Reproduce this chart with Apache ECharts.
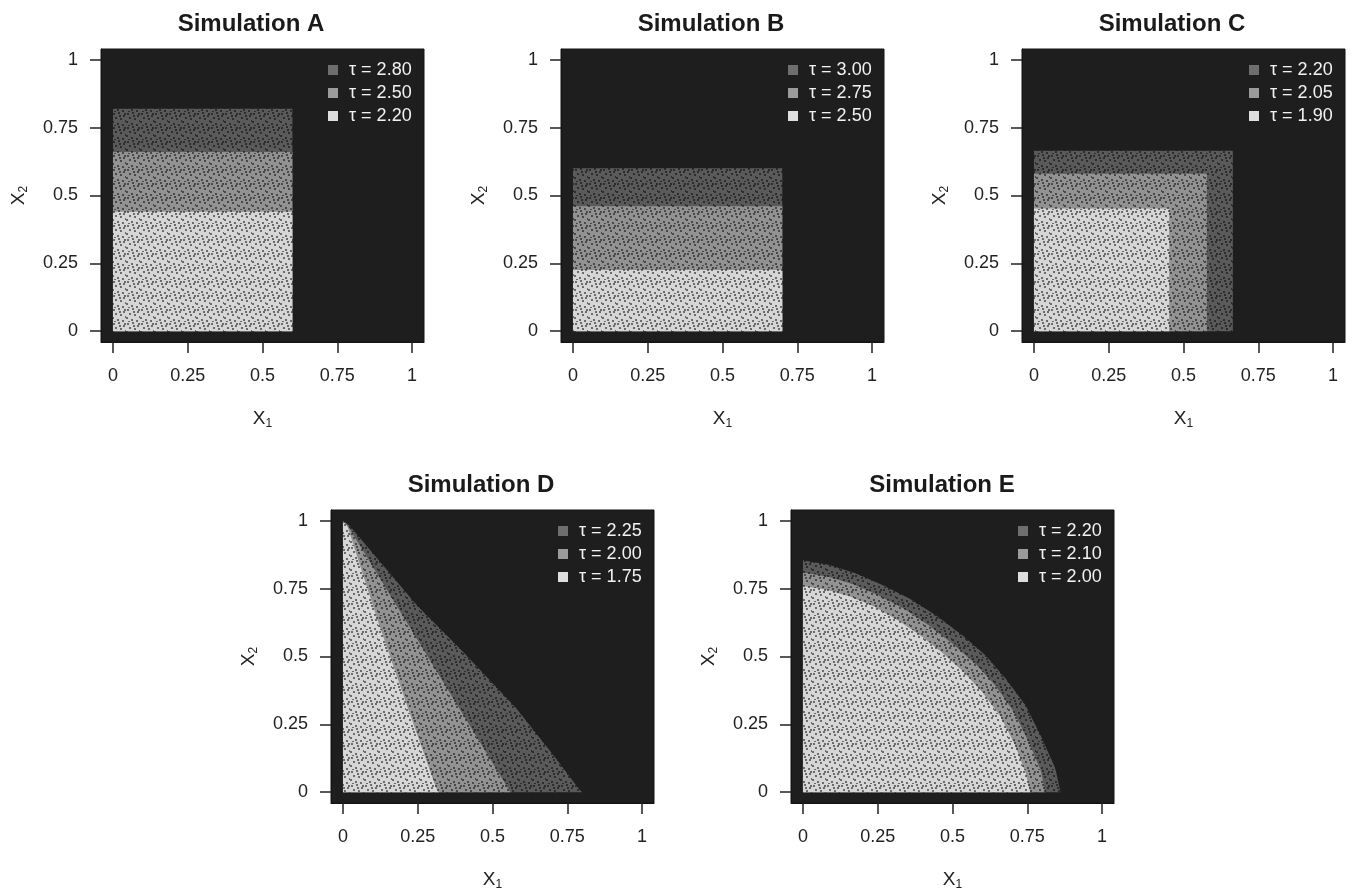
<!DOCTYPE html>
<html>
<head>
<meta charset="utf-8">
<title>Simulations A-E</title>
<script src="https://cdn.jsdelivr.net/npm/echarts@6/dist/echarts.min.js"></script>
<style>
  html, body { margin: 0; padding: 0; background: #fff; }
  #chart { width: 1353px; height: 894px; }
</style>
</head>
<body>
<div id="chart"></div>
<script>
// ---- data ----
const axisTicks = [0, 0.25, 0.5, 0.75, 1];
const titles = ['Simulation A', 'Simulation B', 'Simulation C', 'Simulation D', 'Simulation E'];

// tau per class, highest (dark) to lowest (light)
const tauA = ['2.80', '2.50', '2.20'];
const tauB = ['3.00', '2.75', '2.50'];
const tauC = ['2.20', '2.05', '1.90'];
const tauD = ['2.25', '2.00', '1.75'];
const tauE = ['2.20', '2.10', '2.00'];

// region outlines as [x1, x2]; dark class = outer region, drawn first
const simA_dark = [[0, 0], [0, 0.82], [0.6, 0.82], [0.6, 0]];
const simA_mid = [[0, 0], [0, 0.66], [0.6, 0.66], [0.6, 0]];
const simA_light = [[0, 0], [0, 0.44], [0.6, 0.44], [0.6, 0]];

const simB_dark = [[0, 0], [0, 0.6], [0.7, 0.6], [0.7, 0]];
const simB_mid = [[0, 0], [0, 0.46], [0.7, 0.46], [0.7, 0]];
const simB_light = [[0, 0], [0, 0.225], [0.7, 0.225], [0.7, 0]];

const simC_dark = [[0, 0], [0, 0.665], [0.665, 0.665], [0.665, 0]];
const simC_mid = [[0, 0], [0, 0.58], [0.578, 0.58], [0.578, 0]];
const simC_light = [[0, 0], [0, 0.452], [0.452, 0.452], [0.452, 0]];

const simD_dark = [[0, 0], [0, 1.0], [0.02, 0.985], [0.124, 0.849], [0.247, 0.689], [0.402, 0.517],
  [0.58, 0.308], [0.713, 0.123], [0.79, 0.01], [0.8, 0]];
const simD_mid = [[0, 0], [0, 1.0], [0.02, 0.975], [0.2, 0.65], [0.38, 0.325], [0.56, 0]];
const simD_light = [[0, 0], [0, 1.0], [0.015, 0.98], [0.12, 0.62], [0.22, 0.3], [0.31, 0.02], [0.32, 0]];

const simE_dark = [[0, 0], [0, 0.855], [0.089, 0.837], [0.178, 0.806], [0.267, 0.763], [0.356, 0.714],
  [0.444, 0.652], [0.533, 0.578], [0.611, 0.504], [0.678, 0.418], [0.744, 0.32], [0.8, 0.197],
  [0.844, 0.086], [0.861, 0]];
const simE_mid = [[0, 0], [0, 0.81], [0.09, 0.792], [0.17, 0.765], [0.25, 0.727], [0.34, 0.675],
  [0.42, 0.615], [0.5, 0.547], [0.58, 0.47], [0.645, 0.39], [0.705, 0.295], [0.755, 0.185],
  [0.795, 0.08], [0.81, 0]];
const simE_light = [[0, 0], [0, 0.76], [0.08, 0.746], [0.16, 0.72], [0.24, 0.683], [0.32, 0.632],
  [0.4, 0.572], [0.47, 0.51], [0.54, 0.44], [0.6, 0.368], [0.66, 0.28], [0.71, 0.172],
  [0.745, 0.07], [0.76, 0]];

const panelTaus = [tauA, tauB, tauC, tauD, tauE];
const panelRegions = [
  [simA_dark, simA_mid, simA_light],
  [simB_dark, simB_mid, simB_light],
  [simC_dark, simC_mid, simC_light],
  [simD_dark, simD_mid, simD_light],
  [simE_dark, simE_mid, simE_light]
];

// ---- layout / style ----
const FONT = '"Liberation Sans", Arial, Helvetica, sans-serif';
const panelPos = [
  {left: 101, top: 49, titleX: 251},
  {left: 561, top: 49, titleX: 711},
  {left: 1022, top: 49, titleX: 1172},
  {left: 331, top: 510, titleX: 481},
  {left: 791, top: 510, titleX: 942}
];
const plotW = 323, plotH = 293;
const legendColors = ['#6e6e6e', '#9b9b9b', '#dedede'];
const fillBase = ['#5a5a5a', '#929292', '#d6d6d6'];
// little dark dots giving the scatter-cloud look
const speckle = [[1, 1], [6, 0], [11, 3], [3, 5], [8, 6], [13, 8], [0, 9], [5, 11], [10, 12], [2, 13], [12, 1], [7, 3]];

function speckleFill(base) {
  const c = document.createElement('canvas');
  c.width = 14;
  c.height = 14;
  const g = c.getContext('2d');
  g.fillStyle = base;
  g.fillRect(0, 0, 14, 14);
  g.fillStyle = 'rgba(0,0,0,0.5)';
  speckle.forEach(function (p) { g.fillRect(p[0], p[1], 2, 2); });
  return {image: c, repeat: 'repeat'};
}
const fills = fillBase.map(speckleFill);

function polygonRenderer(poly, fill) {
  return function (params, api) {
    if (params.dataIndex !== 0) return null;
    return {
      type: 'polygon',
      shape: {points: poly.map(function (p) { return api.coord(p); })},
      style: {fill: fill}
    };
  };
}

const subRich = {
  x: {fontSize: 19, fontFamily: FONT, color: '#222', lineHeight: 22, verticalAlign: 'middle'},
  s: {fontSize: 12, fontFamily: FONT, color: '#222', lineHeight: 22, verticalAlign: 'bottom'}
};

function axisFor(i, isX) {
  return {
    gridIndex: i, type: 'value', min: -0.04, max: 1.04,
    axisLine: {show: true, onZero: false, lineStyle: {color: '#141414', width: 1}},
    splitLine: {show: false},
    axisTick: {show: true, inside: false, length: 11, customValues: axisTicks,
      lineStyle: {color: '#222', width: 1.5}},
    axisLabel: {customValues: axisTicks, margin: isX ? 25 : 23, fontSize: 18, color: '#222', fontFamily: FONT},
    name: isX ? '{x|X}{s|1}' : '{x|X}{s|2}',
    nameLocation: 'middle', nameGap: isX ? 66 : 71, nameRotate: isX ? 0 : 90,
    nameTextStyle: {rich: subRich}
  };
}

const grid = [], xAxis = [], yAxis = [], title = [], legend = [], series = [];
panelPos.forEach(function (pos, i) {
  grid.push({
    left: pos.left, top: pos.top, width: plotW, height: plotH,
    show: true, backgroundColor: '#1e1e1e', borderColor: '#141414', borderWidth: 1
  });
  title.push({
    text: titles[i], left: pos.titleX, top: pos.top - 37, textAlign: 'center', padding: 0,
    textStyle: {fontSize: 24, fontWeight: 'bold', color: '#1a1a1a', fontFamily: FONT}
  });
  xAxis.push(axisFor(i, true));
  yAxis.push(axisFor(i, false));
  const names = [];
  panelRegions[i].forEach(function (poly, k) {
    const name = 'P' + i + '|\u03c4 = ' + panelTaus[i][k];
    names.push(name);
    series.push({
      type: 'custom', name: name, xAxisIndex: i, yAxisIndex: i,
      data: poly, silent: true,
      itemStyle: {color: legendColors[k]},
      renderItem: polygonRenderer(poly, fills[k])
    });
  });
  legend.push({
    data: names, orient: 'vertical', left: pos.left + 227, top: pos.top + 12,
    padding: 0, itemGap: 5, itemWidth: 10, itemHeight: 10, icon: 'rect',
    selectedMode: false,
    formatter: function (n) { return n.split('|')[1]; },
    textStyle: {color: '#f2f2f2', fontSize: 18, fontFamily: FONT, padding: [0, 0, 0, 6]}
  });
});

const chart = echarts.init(document.getElementById('chart'));
chart.setOption({
  animation: false,
  backgroundColor: '#fff',
  title: title,
  legend: legend,
  grid: grid,
  xAxis: xAxis,
  yAxis: yAxis,
  series: series
});
</script>
</body>
</html>
